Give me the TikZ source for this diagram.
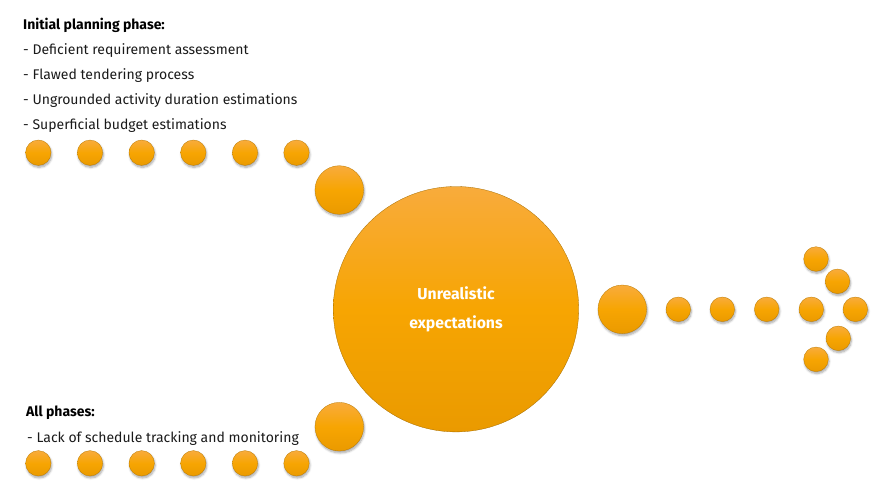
\documentclass[tikz,border=0pt]{standalone}
\usepackage{fontspec}
\setmainfont{Fira Sans}
\usetikzlibrary{shadows.blur}
\definecolor{otop}{HTML}{F8AB3C}
\definecolor{omid}{HTML}{F7A502}
\definecolor{obot}{HTML}{EA9A00}
\definecolor{txt}{HTML}{1A1A1A}
\tikzset{
  ball/.style={circle, inner sep=0pt, draw=obot!80!black, line width=0.3pt,
    top color=otop, bottom color=obot, middle color=omid,
    blur shadow={shadow xshift=0.8pt, shadow yshift=-2pt, shadow blur steps=6, shadow opacity=35}},
  dot/.style={ball, minimum size=25.4pt},
  mdot/.style={ball, minimum size=48.6pt},
  bigball/.style={circle, inner sep=0pt, minimum size=245.4pt, draw=obot!70!black, line width=0.3pt,
    top color=otop, bottom color=obot, middle color=omid},
  head/.style={anchor=west, inner sep=0pt, font=\fontsize{14}{16}\selectfont\bfseries, text=black},
  item/.style={anchor=west, inner sep=0pt, font=\fontsize{14}{16}\selectfont, text=txt},
  ctext/.style={align=center, text=white, font=\fontsize{15.8}{28.5}\selectfont\bfseries}
}
\begin{document}
\begin{tikzpicture}[x=1pt,y=-1pt]
\useasboundingbox (0,0) rectangle (886,496);
% top texts
\node[head] (h1) at (23,25) {Initial planning phase:};
\node[item] (i1) at (23,50.7) {- Deficient requirement assessment};
\node[item] (i2) at (23,76) {- Flawed tendering process};
\node[item] (i3) at (23,100.7) {- Ungrounded activity duration estimations};
\node[item] (i4) at (23,125.7) {- Superficial budget estimations};
% top dots
\foreach \i/\x in {1/38.3,2/90,3/141.7,4/193.3,5/245,6/296.5}
  \node[dot] (t\i) at (\x,152.7) {};
\node[mdot] (tm) at (339.3,190) {};
% main
\node[bigball] (main) at (456,309.2) {};
\node[ctext] (mtext) at (456,309.2) {Unrealistic\\expectations};
% bottom
\node[mdot] (bm) at (339.3,426.7) {};
\node[head] (h2) at (26,412.7) {All phases:};
\node[item] (j1) at (27,438.3) {- Lack of schedule tracking and monitoring};
\foreach \i/\x in {1/38.3,2/90,3/141.7,4/193.3,5/245,6/296.5}
  \node[dot] (b\i) at (\x,463.3) {};
% right arrow
\node[mdot] (rm) at (622.3,309.3) {};
\foreach \i/\x in {1/678.3,2/722.3,3/766.7,4/811.3,5/855.3}
  \node[dot, minimum size=24.6pt] (r\i) at (\x,309.3) {};
\node[dot, minimum size=24.6pt] (a1) at (816,259) {};
\node[dot, minimum size=24.6pt] (a2) at (837.5,281.3) {};
\node[dot, minimum size=24.6pt] (a3) at (838.3,338.3) {};
\node[dot, minimum size=24.6pt] (a4) at (816,359.3) {};
\end{tikzpicture}
\end{document}
